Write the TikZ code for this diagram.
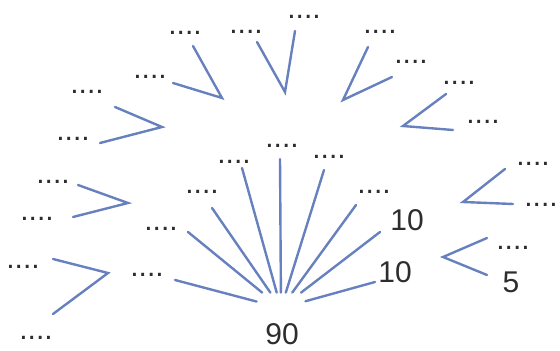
\documentclass[tikz,border=0pt]{standalone}
\usepackage{fontspec}
\setmainfont{Liberation Sans}
\usepackage{tikz}
\definecolor{branch}{RGB}{103,128,190}
\definecolor{darkgray}{RGB}{45,45,45}
\newcommand{\leafdots}{....}

\begin{document}
\begin{tikzpicture}[x=0.5pt,y=-0.5pt,font=\fontsize{15}{18}\selectfont,
    leaf/.style={text=darkgray,inner sep=0pt},
    edge/.style={branch,line width=1.2pt,line cap=round}]
  \useasboundingbox (0,0) rectangle (560,351);
  % central fan
  \node[minimum width=24pt,minimum height=15pt,inner sep=0pt] (hub) at (281,308) {};
  \node[leaf] (hubval) at (282,334) {90};
  \foreach \n/\ex/\ey/\lx/\ly/\t in {
    1/175/280/147/275/\leafdots, 2/188/232/161/229/\leafdots,
    3/212/208/202/192/\leafdots, 4/242/168/234/162/\leafdots,
    5/280/159/282/146/\leafdots, 6/324/170/329/157/\leafdots,
    7/356/205/374/192/\leafdots, 8/380/232/407/220/10,
    9/375/282/395/272/10}{
    \coordinate (tip\n) at (\ex,\ey);
    \node[leaf] (fan\n) at (\lx,\ly) {\t};
    \draw[edge] (hub) -- (tip\n);
  }
  % outer forks
  \foreach \g/\vx/\vy/\ax/\ay/\bx/\by in {
    A/162/127/115/107/100/143, B/222/98/173/83/193/46,
    C/285/92/257/42/295/31, D/343/100/368/47/392/77,
    E/403/126/446/94/453/130, F/463/202/505/169/513/204,
    G/443/257/487/238/487/275, H/128/203/78/185/73/217,
    I/108/273/53/259/53/314}{
    \coordinate (fork\g) at (\vx,\vy);
    \coordinate (end\g1) at (\ax,\ay);
    \coordinate (end\g2) at (\bx,\by);
    \draw[edge] (end\g1) -- (fork\g) -- (end\g2);
  }
  \foreach \g/\ax/\ay/\bx/\by in {
    A/87/92/73/139, B/150/77/185/33, C/246/32/304/17,
    D/380/32/411/62, E/459/83/483/122, F/533/164/541/205,
    H/53/182/37/219, I/23/267/36/338}{
    \node[leaf] (lab\g1) at (\ax,\ay) {\leafdots};
    \node[leaf] (lab\g2) at (\bx,\by) {\leafdots};
  }
  \node[leaf] (labG1) at (513,248) {\leafdots};
  \node[leaf] (labG2) at (511,282) {5};
\end{tikzpicture}
\end{document}
